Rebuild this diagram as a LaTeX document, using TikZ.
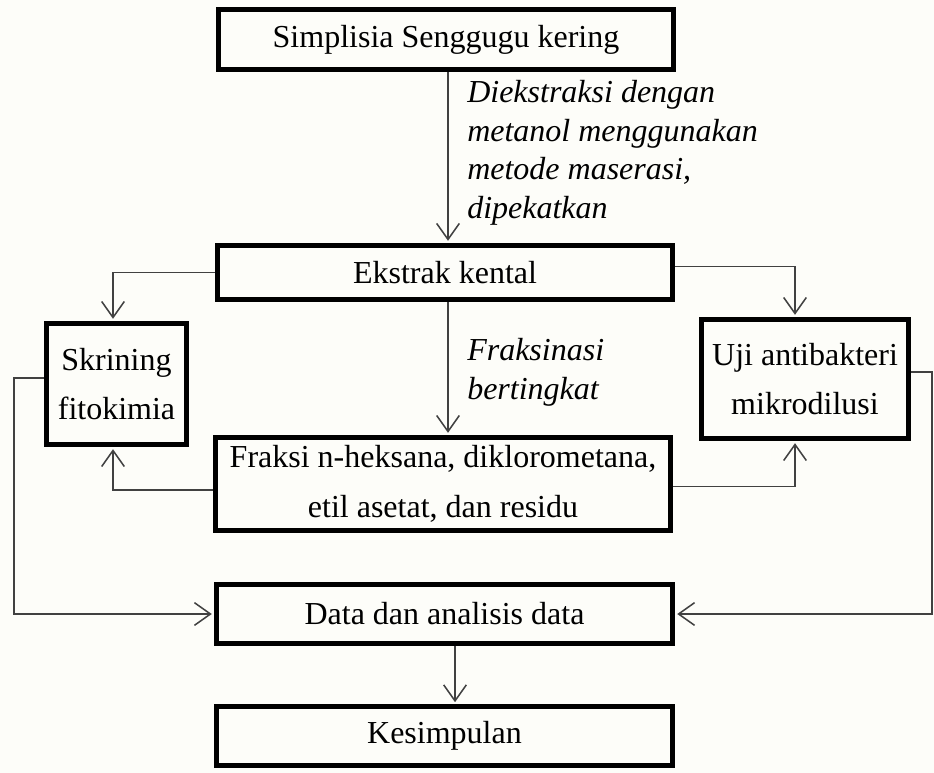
\documentclass[tikz,border=0pt]{standalone}
\usepackage{fontspec}
\setmainfont{Liberation Serif}
\usetikzlibrary{arrows.meta,calc}
\definecolor{connc}{RGB}{65,65,65}
\definecolor{bgc}{RGB}{253,253,249}
\begin{document}
\begin{tikzpicture}[x=0.75pt,y=-0.75pt,
  box/.style={draw=black,line width=3.5pt,inner sep=0pt,font=\fontsize{24}{37}\selectfont,align=center},
  conn/.style={draw=connc,line width=1.15pt},
  arr/.style={conn,-{Straight Barb[length=12pt,width=17pt,line width=1.15pt]},shorten >=1.6pt},
  lbl/.style={font=\fontsize{24}{29}\selectfont\itshape,align=left,inner sep=0pt,anchor=north west}]
\path[use as bounding box,fill=bgc] (0,0) rectangle (934,773);
\coordinate (c14) at (14,0);
\coordinate (c113) at (113,0);
\coordinate (c448) at (448,0);
\coordinate (c455) at (455,0);
\coordinate (c795) at (795,0);
\coordinate (c932) at (932,0);

\node[box,minimum width=341.6pt,minimum height=45.4pt] (simp) at (446,39.5) {Simplisia Senggugu kering};
\node[box,minimum width=341.6pt,minimum height=40.9pt] (ekstrak) at (445,272.5) {Ekstrak kental};
\node[box,minimum width=105.4pt,minimum height=91.1pt] (skr) at (116.5,384) {Skrining\\fitokimia};
\node[box,minimum width=155.6pt,minimum height=89.6pt] (uji) at (805,379) {Uji antibakteri\\mikrodilusi};
\node[box,minimum width=341.6pt,minimum height=70.1pt] (fraksi) at (443,484) {Fraksi n-heksana, diklorometana,\\etil asetat, dan residu};
\node[box,minimum width=342.4pt,minimum height=44pt] (data) at (444.5,614) {Data dan analisis data};
\node[box,minimum width=342.4pt,minimum height=44pt] (kes) at (444.5,736) {Kesimpulan};

\node[lbl] (l1) at (467,80) {Diekstraksi dengan\\metanol menggunakan\\metode maserasi,\\dipekatkan};
\node[lbl] (l2) at (467,338) {Fraksinasi\\bertingkat};

\draw[arr] (simp.south -| c448) -- (ekstrak.north -| c448);
\draw[arr] (ekstrak.west) -| (skr.north -| c113);
\draw[arr] ([yshift=4.5pt]ekstrak.east) -| (uji.north -| c795);
\draw[arr] (ekstrak.south -| c448) -- (fraksi.north -| c448);
\draw[arr] ([yshift=-4.5pt]fraksi.west) -| (skr.south -| c113);
\draw[arr] ([yshift=-2pt]fraksi.east) -| (uji.south -| c795);
\draw[arr] ([yshift=4.5pt]skr.west) -| (c14 |- data.west) -- (data.west);
\draw[arr] ([yshift=5.25pt]uji.east) -| (c932 |- data.east) -- (data.east);
\draw[arr] (data.south -| c455) -- (kes.north -| c455);
\end{tikzpicture}
\end{document}
